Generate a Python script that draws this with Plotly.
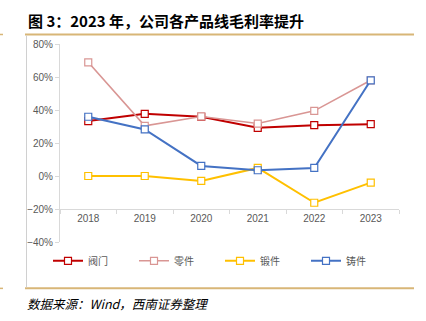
import plotly.graph_objects as go

years = ["2018", "2019", "2020", "2021", "2022", "2023"]
valve = [33.3, 37.7, 35.9, 29.2, 30.8, 31.4]      # 阀门
parts = [68.9, 30.4, 36.1, 31.8, 39.5, 58.0]      # 零件
forging = [0.0, 0.0, -3.0, 4.9, -16.2, -4.0]      # 锻件
casting = [35.9, 28.2, 6.1, 3.5, 4.9, 58.0]       # 铸件

series = [
    ("阀门", valve, "#C00000", 2),
    ("零件", parts, "#D99694", 1.6),
    ("锻件", forging, "#FFC000", 2),
    ("铸件", casting, "#4472C4", 2),
]

W, H = 426, 321
L, R, T, B = 60, 399, 44, 241.7

def px(x):
    return (x - L) / (R - L)

def py(y):
    return 1 - (y - T) / (B - T)

fig = go.Figure()
for name, vals, color, lw in series:
    fig.add_trace(go.Scatter(
        x=years, y=vals, name=name, mode="lines+markers",
        line=dict(color=color, width=lw),
        marker=dict(symbol="square", size=7, color="white",
                    line=dict(color=color, width=1.2)),
    ))

font_cjk = "Noto Sans CJK SC"
fig.update_layout(
    width=W, height=H,
    margin=dict(l=L, r=W - R, t=T, b=H - B),
    paper_bgcolor="white", plot_bgcolor="white",
    showlegend=True,
    legend=dict(orientation="h", x=px(48), y=py(246), xanchor="left", yanchor="top",
                entrywidth=41, entrywidthmode="pixels",
                font=dict(family=font_cjk, size=10, color="#595959"),
                bgcolor="rgba(0,0,0,0)", itemclick=False),
    xaxis=dict(type="category", anchor="free", position=1/6,
               showline=True, linecolor="#D9D9D9", linewidth=1,
               ticks="outside", tickson="boundaries", ticklen=4, tickcolor="#D9D9D9",
               showgrid=False, range=[-0.5, 5.5],
               tickfont=dict(family="Liberation Sans, Arial", size=10, color="#595959")),
    yaxis=dict(range=[-40, 80], dtick=20, ticksuffix="%",
               showline=True, linecolor="#D9D9D9", linewidth=1,
               ticks="outside", ticklen=4, tickcolor="#D9D9D9",
               showgrid=False, zeroline=False,
               tickfont=dict(family="Liberation Sans, Arial", size=10, color="#595959")),
)

shapes = []
gold = "#D8B677"
shapes.append(dict(type="line", xref="paper", yref="paper",
                   x0=px(25), x1=px(414), y0=py(34.5), y1=py(34.5),
                   line=dict(color=gold, width=2)))
shapes.append(dict(type="line", xref="paper", yref="paper",
                   x0=px(25), x1=px(414), y0=py(288), y1=py(288),
                   line=dict(color=gold, width=2)))
shapes.append(dict(type="line", xref="paper", yref="paper",
                   x0=px(26.5), x1=px(26.5), y0=py(35.5), y1=py(287),
                   line=dict(color="#D0D0D0", width=1)))
shapes.append(dict(type="line", xref="paper", yref="paper",
                   x0=px(0), x1=px(3), y0=py(34.5), y1=py(34.5),
                   line=dict(color=gold, width=1.5)))
shapes.append(dict(type="line", xref="paper", yref="paper",
                   x0=px(0), x1=px(3), y0=py(288), y1=py(288),
                   line=dict(color=gold, width=1.5)))
fig.update_layout(shapes=shapes)

fig.add_annotation(text="<b>图 3：2023 年，公司各产品线毛利率提升</b>",
                   xref="paper", yref="paper", x=px(26), y=py(21),
                   xanchor="left", yanchor="middle", showarrow=False,
                   font=dict(family=font_cjk, size=15, color="black"))
fig.add_annotation(text="<i>数据来源：Wind，西南证券整理</i>",
                   xref="paper", yref="paper", x=px(25), y=py(303),
                   xanchor="left", yanchor="middle", showarrow=False,
                   font=dict(family=font_cjk, size=12.5, color="black"))

fig.write_html("out.html")
